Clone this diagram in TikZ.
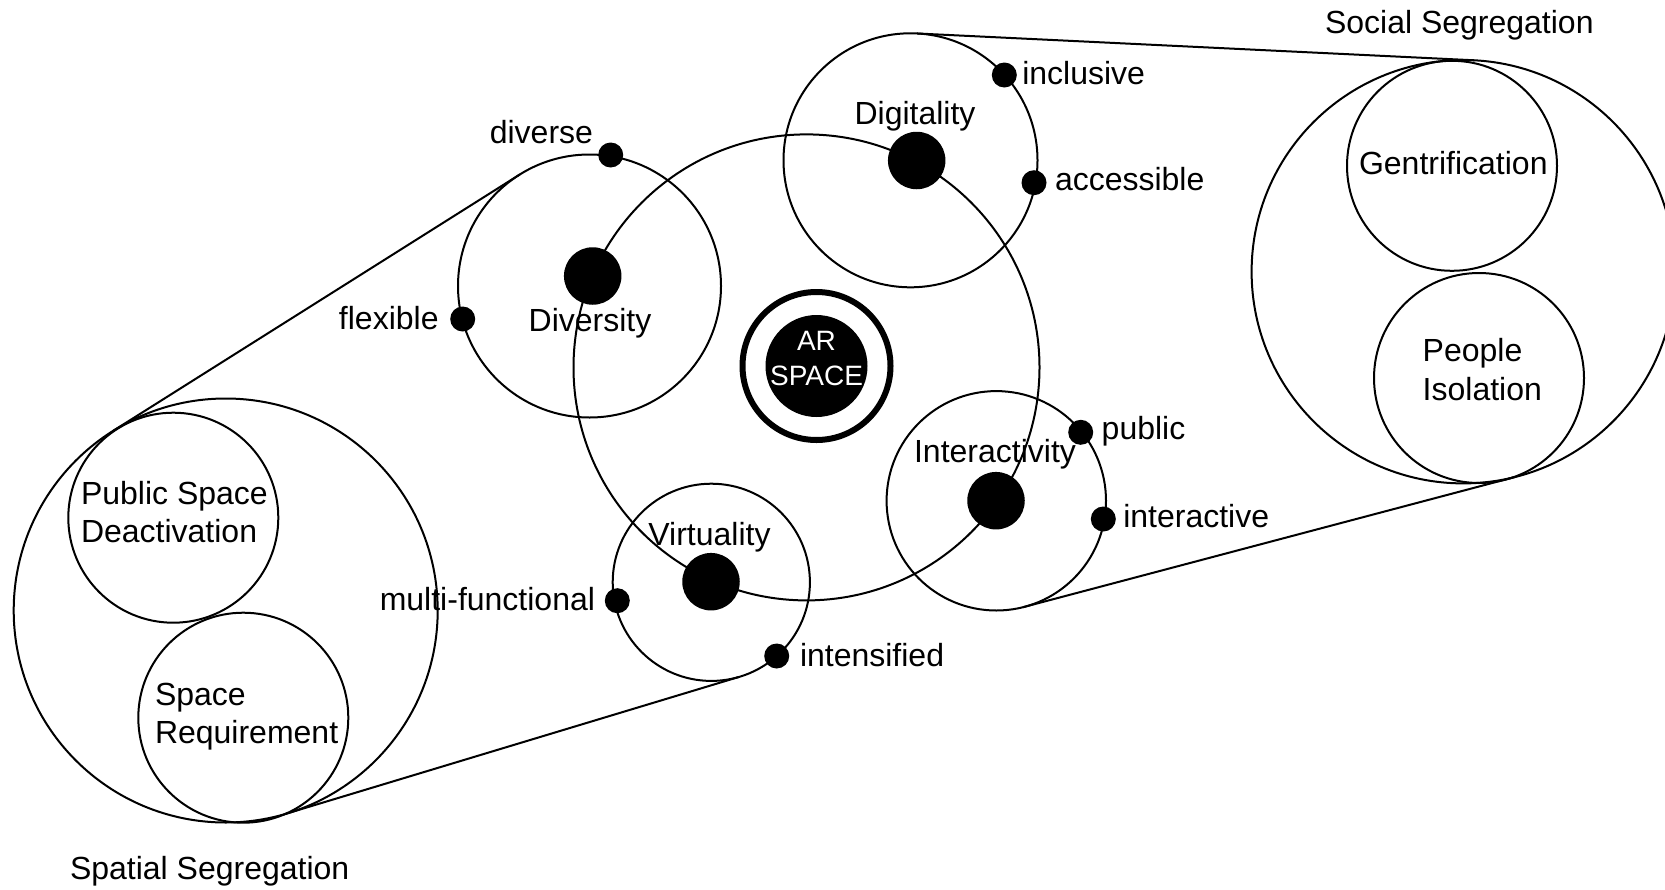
\documentclass[tikz,border=0pt]{standalone}
\usepackage{fontspec}
\setmainfont{Liberation Sans}
\begin{document}
\begin{tikzpicture}[x=1pt,y=-1pt,
  ring/.style={circle,draw,line width=2pt,inner sep=0pt,outer sep=0pt},
  bigdot/.style={circle,fill=black,minimum size=57.5pt,inner sep=0pt},
  smalldot/.style={circle,fill=black,minimum size=25pt,inner sep=0pt},
  txt/.style={inner sep=0pt,outer sep=0pt,font=\fontsize{32}{38.5}\selectfont},
  tline/.style={line width=2pt}]
\useasboundingbox (0,0) rectangle (1665,889);
\fill[white] (0,0) rectangle (1665,889);
\clip (0,0) rectangle (1665,889);

% big group circles
\node[ring,minimum size=424pt] (spatial) at (225.7,610.5) {};
\node[ring,minimum size=210pt] (psd) at (173.3,517.7) {};
\node[ring,minimum size=210pt] (sreq) at (243.3,717.7) {};
\node[ring,minimum size=423.4pt] (social) at (1463.3,271.7) {};
\node[ring,minimum size=210pt] (gent) at (1452,165.8) {};
\node[ring,minimum size=210pt] (piso) at (1479,378) {};

% orbit and feature circles
\node[ring,minimum size=466pt] (orbit) at (806.5,367.4) {};
\node[ring,minimum size=263pt] (divC) at (589.5,286) {};
\node[ring,minimum size=254pt] (digC) at (910.5,160.3) {};
\node[ring,minimum size=219.4pt] (intC) at (996.3,500.8) {};
\node[ring,minimum size=197.2pt] (virC) at (711.3,582.3) {};

% tangent connectors
\draw[tline] (digC.87.2) -- (social.87.2);
\draw[tline] (intC.284.8) -- (social.284.8);
\draw[tline] (divC.122.1) -- (spatial.122.1);
\draw[tline] (virC.286.9) -- (spatial.286.9);

% AR SPACE
\node[circle,draw,line width=6pt,minimum size=148pt,inner sep=0pt] (arring) at (816.5,366) {};
\node[circle,fill=black,minimum size=102pt,inner sep=0pt] (ardisk) at (816.5,366) {};
\node[inner sep=0pt,text=white,font=\fontsize{28}{35}\selectfont,anchor=base] (artext) at (816.5,350)
  {\begin{tabular}[t]{@{}c@{}}AR\\SPACE\end{tabular}};

% big dots
\node[bigdot] (divD) at (592.7,276) {};
\node[bigdot] (digD) at (916.7,160.5) {};
\node[bigdot] (intD) at (996,500.7) {};
\node[bigdot] (virD) at (711,581.7) {};

% small dots
\node[smalldot] (dDiverse) at (610.7,155) {};
\node[smalldot] (dFlexible) at (462.7,319) {};
\node[smalldot] (dInclusive) at (1004.3,75) {};
\node[smalldot] (dAccessible) at (1034,182.7) {};
\node[smalldot] (dPublic) at (1080.7,432.3) {};
\node[smalldot] (dInteractive) at (1103.3,519) {};
\node[smalldot] (dMulti) at (617.3,600.7) {};
\node[smalldot] (dIntensified) at (776.7,656) {};

% labels
\node[txt,anchor=base east] (lDiverse) at (593,143.3) {diverse};
\node[txt,anchor=base east] (lFlexible) at (438.6,329) {flexible};
\node[txt,anchor=base west] (lInclusive) at (1022.3,84) {inclusive};
\node[txt,anchor=base west] (lAccessible) at (1055,190.7) {accessible};
\node[txt,anchor=base west] (lPublic) at (1101.7,439.3) {public};
\node[txt,anchor=base west] (lInteractive) at (1123.3,527.3) {interactive};
\node[txt,anchor=base east] (lMulti) at (595,610) {multi-functional};
\node[txt,anchor=base west] (lIntensified) at (800,666.7) {intensified};

\node[txt,anchor=base] (tDig) at (915,124) {Digitality};
\node[txt,anchor=base] (tDiv) at (590,331.7) {Diversity};
\node[txt,anchor=base] (tVir) at (709.5,545) {Virtuality};
\node[txt,anchor=base] (tInt) at (995,462.7) {Interactivity};

\node[txt,anchor=base] (tGent) at (1453.3,174) {Gentrification};
\node[txt,anchor=base west] (tPiso) at (1422.7,361.7) {\begin{tabular}[t]{@{}l@{}}People\\Isolation\end{tabular}};
\node[txt,anchor=base west] (tPsd) at (81,504) {\begin{tabular}[t]{@{}l@{}}Public Space\\Deactivation\end{tabular}};
\node[txt,anchor=base west] (tSreq) at (155,705) {\begin{tabular}[t]{@{}l@{}}Space\\Requirement\end{tabular}};

\node[txt,anchor=base west] (tSocial) at (1325,33.3) {Social Segregation};
\node[txt,anchor=base west] (tSpatial) at (70,879.3) {Spatial Segregation};
\end{tikzpicture}
\end{document}
